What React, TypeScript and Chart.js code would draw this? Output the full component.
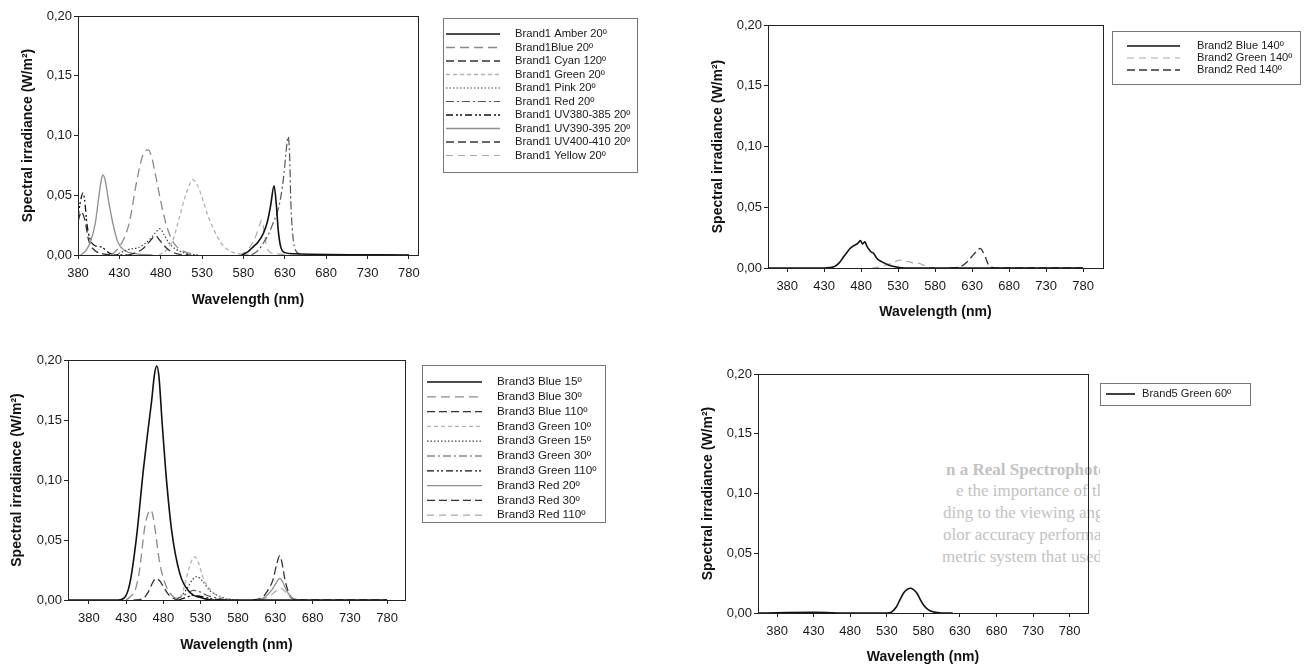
import React, { useEffect, useRef } from "react";
import { Chart, registerables } from "chart.js";

Chart.register(...registerables);

// ---------- shared axis ticks ----------
const X_TICKS = [380, 430, 480, 530, 580, 630, 680, 730, 780];
const Y_TICKS = [0, 0.05, 0.1, 0.15, 0.2];
const X_TITLE = "Wavelength (nm)";
const Y_TITLE = "Spectral irradiance (W/m²)";

// ---------- Panel 1 : Brand1 ----------
const B1_LABELS = [
  "Brand1 Amber 20º",
  "Brand1Blue 20º",
  "Brand1 Cyan 120º",
  "Brand1 Green 20º",
  "Brand1 Pink 20º",
  "Brand1 Red 20º",
  "Brand1 UV380-385 20º",
  "Brand1 UV390-395 20º",
  "Brand1 UV400-410 20º",
  "Brand1 Yellow 20º",
];
const b1AmberX = [578, 586, 592, 598, 604, 609, 613, 617, 620, 622, 625, 630, 640, 780];
const b1AmberY = [0, 0.003, 0.007, 0.011, 0.018, 0.028, 0.042, 0.058, 0.04, 0.021, 0.007, 0.002, 0.001, 0];
const b1BlueX = [420, 428, 435, 442, 450, 456, 461, 465, 469, 474, 480, 486, 492, 498, 508, 525];
const b1BlueY = [0, 0.005, 0.013, 0.027, 0.058, 0.078, 0.087, 0.088, 0.082, 0.066, 0.045, 0.027, 0.015, 0.008, 0.003, 0];
const b1CyanX = [440, 450, 458, 465, 470, 474, 478, 484, 490, 500, 515];
const b1CyanY = [0, 0.002, 0.005, 0.01, 0.014, 0.016, 0.013, 0.008, 0.004, 0.001, 0];
const b1GreenX = [478, 488, 495, 502, 510, 515, 519, 524, 530, 537, 545, 553, 562, 575, 590];
const b1GreenY = [0, 0.005, 0.013, 0.03, 0.05, 0.059, 0.063, 0.059, 0.048, 0.033, 0.02, 0.01, 0.004, 0.001, 0];
const b1PinkX = [425, 435, 443, 452, 460, 468, 474, 479, 484, 490, 498, 508, 525];
const b1PinkY = [0, 0.003, 0.005, 0.006, 0.009, 0.014, 0.019, 0.022, 0.017, 0.01, 0.005, 0.002, 0];
const b1RedX = [590, 598, 604, 610, 616, 621, 625, 629, 632, 634, 636, 637, 639, 642, 648, 660, 780];
const b1RedY = [0, 0.004, 0.01, 0.017, 0.027, 0.036, 0.048, 0.068, 0.09, 0.099, 0.08, 0.05, 0.022, 0.006, 0.001, 0, 0];
const b1Uv380X = [380, 383, 386, 388, 391, 395, 400, 408, 420, 440];
const b1Uv380Y = [0.031, 0.045, 0.052, 0.046, 0.025, 0.0125, 0.008, 0.0067, 0.001, 0];
const b1Uv390X = [383, 390, 396, 401, 405, 408, 410, 413, 417, 422, 428, 436, 450, 470];
const b1Uv390Y = [0, 0.004, 0.013, 0.027, 0.048, 0.062, 0.067, 0.062, 0.045, 0.027, 0.011, 0.004, 0.001, 0];
const b1Uv400X = [380, 384, 388, 393, 400, 410, 425];
const b1Uv400Y = [0.028, 0.036, 0.03, 0.012, 0.004, 0.001, 0];
const b1YellowX = [575, 583, 590, 595, 599, 602, 605, 608, 613, 620, 635];
const b1YellowY = [0, 0.003, 0.009, 0.016, 0.024, 0.029, 0.02, 0.007, 0.002, 0.001, 0];

// ---------- Panel 2 : Brand2 ----------
const B2_LABELS = ["Brand2 Blue 140º", "Brand2 Green 140º", "Brand2 Red 140º"];
const b2BlueX = [355, 430, 443, 450, 456, 461, 465, 469, 472, 475, 479, 482, 485, 488, 491, 493, 497, 501, 508, 517, 526, 540, 780];
const b2BlueY = [0, 0, 0.001, 0.004, 0.009, 0.013, 0.016, 0.018, 0.019, 0.02, 0.0225, 0.0198, 0.0216, 0.0175, 0.015, 0.0134, 0.012, 0.008, 0.005, 0.0025, 0.001, 0, 0];
const b2GreenX = [495, 506, 516, 524, 529, 533, 537, 544, 551, 556, 560, 569, 580];
const b2GreenY = [0, 0.001, 0.003, 0.004, 0.0062, 0.0066, 0.0052, 0.0053, 0.0039, 0.0042, 0.0035, 0.001, 0];
const b2RedX = [600, 614, 623, 632, 637, 641, 644, 648, 651, 655, 665, 780];
const b2RedY = [0, 0.001, 0.005, 0.011, 0.0145, 0.0162, 0.014, 0.009, 0.004, 0.001, 0, 0];

// ---------- Panel 3 : Brand3 ----------
const B3_LABELS = [
  "Brand3 Blue 15º",
  "Brand3 Blue 30º",
  "Brand3 Blue 110º",
  "Brand3 Green 10º",
  "Brand3 Green 15º",
  "Brand3 Green 30º",
  "Brand3 Green 110º",
  "Brand3 Red 20º",
  "Brand3 Red 30º",
  "Brand3 Red 110º",
];
const b3Blue15X = [352, 420, 428, 435, 444, 453, 459, 464, 468, 471, 474, 478, 483, 491, 502, 516, 530, 545, 780];
const b3Blue15Y = [0, 0, 0.002, 0.014, 0.053, 0.108, 0.14, 0.165, 0.188, 0.195, 0.186, 0.15, 0.108, 0.058, 0.022, 0.006, 0.002, 0, 0];
const b3Blue30X = [430, 436, 442, 448, 455, 460, 463, 466, 469, 475, 484, 493, 505];
const b3Blue30Y = [0, 0.003, 0.008, 0.025, 0.061, 0.073, 0.075, 0.07, 0.058, 0.031, 0.011, 0.003, 0];
const b3Blue110X = [440, 452, 460, 466, 470, 475, 480, 489, 500];
const b3Blue110Y = [0, 0.001, 0.007, 0.015, 0.018, 0.016, 0.011, 0.003, 0];
const b3Green10X = [495, 504, 509, 514, 518, 522, 527, 533, 540, 547, 558, 575];
const b3Green10Y = [0, 0.003, 0.014, 0.026, 0.033, 0.036, 0.031, 0.019, 0.011, 0.006, 0.002, 0];
const b3Green15X = [495, 505, 513, 519, 525, 532, 542, 552, 565, 580];
const b3Green15Y = [0, 0.004, 0.011, 0.017, 0.0195, 0.016, 0.008, 0.004, 0.001, 0];
const b3Green30X = [495, 505, 513, 520, 528, 538, 550, 565];
const b3Green30Y = [0, 0.003, 0.006, 0.008, 0.007, 0.004, 0.002, 0];
const b3Green110X = [500, 510, 520, 530, 545, 560];
const b3Green110Y = [0, 0.002, 0.004, 0.003, 0.001, 0];
const b3Red20X = [605, 615, 625, 631, 636, 640, 645, 652, 662];
const b3Red20Y = [0, 0.002, 0.008, 0.014, 0.018, 0.015, 0.008, 0.002, 0];
const b3Red30X = [600, 608, 614, 620, 627, 632, 636, 639, 643, 648, 654, 665, 780];
const b3Red30Y = [0, 0.001, 0.003, 0.008, 0.017, 0.03, 0.037, 0.031, 0.017, 0.006, 0.001, 0, 0];
const b3Red110X = [610, 622, 630, 637, 643, 650, 660];
const b3Red110Y = [0, 0.003, 0.007, 0.01, 0.007, 0.002, 0];

// ---------- Panel 4 : Brand5 ----------
const B4_LABELS = ["Brand5 Green 60º"];
const b5GreenX = [355, 430, 480, 530, 537, 543, 548, 553, 558, 562, 566, 571, 576, 581, 586, 593, 605, 620];
const b5GreenY = [0, 0.0005, 0, 0, 0.001, 0.005, 0.011, 0.0168, 0.0198, 0.0207, 0.0198, 0.0168, 0.011, 0.006, 0.003, 0.001, 0, 0];

// ---------- line styles ----------
type Style = { color: string; width: number; dash: number[] };
const SOLID_BLACK: Style = { color: "#111", width: 1.6, dash: [] };
const LONG_GRAY: Style = { color: "#8a8a8a", width: 1.3, dash: [9, 5] };
const DARK_DASH: Style = { color: "#333", width: 1.3, dash: [8, 4] };
const LIGHT_SHORT: Style = { color: "#b2b2b2", width: 1.3, dash: [4, 3] };
const DOTTED: Style = { color: "#444", width: 1.2, dash: [1.5, 2] };
const DASH_DOT: Style = { color: "#555", width: 1.2, dash: [8, 3, 2, 3] };
const DASH_DOT_DOT: Style = { color: "#111", width: 1.3, dash: [7, 3, 2, 2, 2, 3] };
const SOLID_GRAY: Style = { color: "#8f8f8f", width: 1.3, dash: [] };
const LIGHT_LONG: Style = { color: "#a8a8a8", width: 1.2, dash: [7, 5] };

type Series = { label: string; xs: number[]; ys: number[]; style: Style };

const P1_SERIES: Series[] = [
  { label: B1_LABELS[0], xs: b1AmberX, ys: b1AmberY, style: SOLID_BLACK },
  { label: B1_LABELS[1], xs: b1BlueX, ys: b1BlueY, style: LONG_GRAY },
  { label: B1_LABELS[2], xs: b1CyanX, ys: b1CyanY, style: DARK_DASH },
  { label: B1_LABELS[3], xs: b1GreenX, ys: b1GreenY, style: LIGHT_SHORT },
  { label: B1_LABELS[4], xs: b1PinkX, ys: b1PinkY, style: DOTTED },
  { label: B1_LABELS[5], xs: b1RedX, ys: b1RedY, style: DASH_DOT },
  { label: B1_LABELS[6], xs: b1Uv380X, ys: b1Uv380Y, style: DASH_DOT_DOT },
  { label: B1_LABELS[7], xs: b1Uv390X, ys: b1Uv390Y, style: SOLID_GRAY },
  { label: B1_LABELS[8], xs: b1Uv400X, ys: b1Uv400Y, style: DARK_DASH },
  { label: B1_LABELS[9], xs: b1YellowX, ys: b1YellowY, style: LIGHT_LONG },
];
const P2_SERIES: Series[] = [
  { label: B2_LABELS[0], xs: b2BlueX, ys: b2BlueY, style: SOLID_BLACK },
  { label: B2_LABELS[1], xs: b2GreenX, ys: b2GreenY, style: LIGHT_LONG },
  { label: B2_LABELS[2], xs: b2RedX, ys: b2RedY, style: DARK_DASH },
];
const P3_SERIES: Series[] = [
  { label: B3_LABELS[0], xs: b3Blue15X, ys: b3Blue15Y, style: SOLID_BLACK },
  { label: B3_LABELS[1], xs: b3Blue30X, ys: b3Blue30Y, style: LONG_GRAY },
  { label: B3_LABELS[2], xs: b3Blue110X, ys: b3Blue110Y, style: DARK_DASH },
  { label: B3_LABELS[3], xs: b3Green10X, ys: b3Green10Y, style: LIGHT_SHORT },
  { label: B3_LABELS[4], xs: b3Green15X, ys: b3Green15Y, style: DOTTED },
  { label: B3_LABELS[5], xs: b3Green30X, ys: b3Green30Y, style: DASH_DOT },
  { label: B3_LABELS[6], xs: b3Green110X, ys: b3Green110Y, style: DASH_DOT_DOT },
  { label: B3_LABELS[7], xs: b3Red20X, ys: b3Red20Y, style: SOLID_GRAY },
  { label: B3_LABELS[8], xs: b3Red30X, ys: b3Red30Y, style: DARK_DASH },
  { label: B3_LABELS[9], xs: b3Red110X, ys: b3Red110Y, style: LIGHT_LONG },
];
const P4_SERIES: Series[] = [
  { label: B4_LABELS[0], xs: b5GreenX, ys: b5GreenY, style: SOLID_BLACK },
];

type LegendBox = { x0: number; y0: number; x1: number; y1: number; lx0: number; lx1: number; tx: number; row0: number; step: number; font: number };
type PanelDef = {
  x: number; y: number; w: number; h: number;
  plot: { l: number; t: number; r: number; b: number };
  xMin: number; xMax: number;
  yTitlePad: number; xTitlePad: number;
  legend: LegendBox;
  series: Series[];
};

const PANELS: PanelDef[] = [
  {
    x: 0, y: 0, w: 650, h: 325,
    plot: { l: 78, t: 16, r: 418, b: 255 }, xMin: 380, xMax: 791,
    yTitlePad: 19.6, xTitlePad: 16.6,
    legend: { x0: 443, y0: 18, x1: 637, y1: 172, lx0: 446, lx1: 500, tx: 515, row0: 34, step: 13.5, font: 11.2 },
    series: P1_SERIES,
  },
  {
    x: 690, y: 0, w: 617, h: 330,
    plot: { l: 78, t: 25, r: 413, b: 268 }, xMin: 354, xMax: 807,
    yTitlePad: 19.6, xTitlePad: 9.6,
    legend: { x0: 422, y0: 31, x1: 610, y1: 84, lx0: 437, lx1: 490, tx: 507, row0: 46, step: 12, font: 11.1 },
    series: P2_SERIES,
  },
  {
    x: 0, y: 340, w: 650, h: 328,
    plot: { l: 68, t: 20, r: 405, b: 260 }, xMin: 352, xMax: 804,
    yTitlePad: 8.6, xTitlePad: 14.6,
    legend: { x0: 422, y0: 25, x1: 605, y1: 182, lx0: 427, lx1: 482, tx: 497, row0: 42, step: 14.8, font: 11.7 },
    series: P3_SERIES,
  },
  {
    x: 690, y: 340, w: 617, h: 328,
    plot: { l: 68, t: 34, r: 398, b: 273 }, xMin: 354, xMax: 805,
    yTitlePad: 9.6, xTitlePad: 2.6,
    legend: { x0: 410, y0: 43, x1: 560, y1: 65, lx0: 416, lx1: 445, tx: 452, row0: 54, step: 12, font: 11.1 },
    series: P4_SERIES,
  },
];

const FAMILY = '"Liberation Sans", Arial, Helvetica, sans-serif';

function Panel({ p }: { p: PanelDef }) {
  const ref = useRef<HTMLCanvasElement | null>(null);
  useEffect(() => {
    const canvas = ref.current;
    if (!canvas) return;
    const frameLegend = {
      id: "frameLegend",
      afterDraw(chart: any) {
        const { ctx, chartArea: a } = chart;
        ctx.save();
        ctx.setLineDash([]);
        ctx.strokeStyle = "#222";
        ctx.lineWidth = 1;
        ctx.strokeRect(Math.round(a.left) + 0.5, Math.round(a.top) + 0.5, Math.round(a.right - a.left), Math.round(a.bottom - a.top));
        const L = p.legend;
        ctx.strokeStyle = "#777";
        ctx.strokeRect(L.x0 + 0.5, L.y0 + 0.5, L.x1 - L.x0, L.y1 - L.y0);
        chart.data.datasets.forEach((ds: any, i: number) => {
          const y = L.row0 + i * L.step;
          ctx.beginPath();
          ctx.setLineDash(ds.borderDash || []);
          ctx.strokeStyle = ds.borderColor;
          ctx.lineWidth = ds.borderWidth;
          ctx.moveTo(L.lx0, y);
          ctx.lineTo(L.lx1, y);
          ctx.stroke();
          ctx.setLineDash([]);
          ctx.fillStyle = "#1a1a1a";
          ctx.font = `${L.font}px ${FAMILY}`;
          ctx.textBaseline = "middle";
          ctx.textAlign = "left";
          ctx.fillText(ds.label, L.tx, y);
        });
        ctx.restore();
      },
    };
    const chart = new Chart(canvas, {
      type: "line",
      data: {
        datasets: p.series.map((s) => ({
          label: s.label,
          data: s.xs.map((x, i) => ({ x, y: s.ys[i] })),
          borderColor: s.style.color,
          borderWidth: s.style.width,
          borderDash: s.style.dash,
          pointRadius: 0,
          fill: false,
          cubicInterpolationMode: "monotone" as const,
        })),
      },
      options: {
        animation: false,
        responsive: false,
        devicePixelRatio: 1,
        events: [],
        layout: { padding: { left: 0, top: p.plot.t, right: p.w - p.plot.r, bottom: 0 } },
        plugins: { legend: { display: false }, tooltip: { enabled: false } },
        scales: {
          x: {
            type: "linear",
            min: p.xMin,
            max: p.xMax,
            afterBuildTicks: (s: any) => {
              s.ticks = X_TICKS.map((v) => ({ value: v }));
            },
            afterFit: (s: any) => {
              s.height = p.h - p.plot.b;
            },
            grid: { drawOnChartArea: false, drawTicks: true, tickLength: 4, color: "#222" },
            border: { display: true, color: "#222", width: 1 },
            ticks: {
              color: "#1a1a1a",
              font: { size: 13, family: FAMILY },
              padding: 7,
              maxRotation: 0,
              autoSkip: false,
              callback: (v: any) => String(v),
            },
            title: {
              display: true,
              text: X_TITLE,
              color: "#111",
              font: { size: 14, weight: "bold", family: FAMILY },
              padding: { top: 0, bottom: p.xTitlePad },
            },
          },
          y: {
            type: "linear",
            min: 0,
            max: 0.2,
            afterBuildTicks: (s: any) => {
              s.ticks = Y_TICKS.map((v) => ({ value: v }));
            },
            afterFit: (s: any) => {
              s.width = p.plot.l;
            },
            grid: { drawOnChartArea: false, drawTicks: true, tickLength: 4, color: "#222" },
            border: { display: true, color: "#222", width: 1 },
            ticks: {
              color: "#1a1a1a",
              font: { size: 13, family: FAMILY },
              padding: 2,
              autoSkip: false,
              callback: (v: any) => Number(v).toFixed(2).replace(".", ","),
            },
            title: {
              display: true,
              text: Y_TITLE,
              color: "#111",
              font: { size: 14, weight: "bold", family: FAMILY },
              padding: { top: p.yTitlePad, bottom: 0 },
            },
          },
        },
      } as any,
      plugins: [frameLegend],
    });
    return () => chart.destroy();
  }, [p]);
  return (
    <canvas
      ref={ref}
      width={p.w}
      height={p.h}
      style={{ position: "absolute", left: p.x, top: p.y, width: p.w, height: p.h }}
    />
  );
}

// faint page text showing through the scan, behind the fourth panel
const BG_LINES = [
  { text: "n a Real Spectrophoto", top: 460, left: 946, bold: true },
  { text: "e the importance of th", top: 481, left: 956, bold: false },
  { text: "ding to the viewing angle", top: 503, left: 943, bold: false },
  { text: "olor accuracy performance o", top: 525, left: 943, bold: false },
  { text: "metric system that used a white", top: 547, left: 942, bold: false },
];

export default function App() {
  return (
    <div style={{ position: "absolute", left: 0, top: 0, width: 1307, height: 668, background: "#fff", overflow: "hidden" }}>
      <div style={{ position: "absolute", left: 930, top: 450, width: 170, height: 125, overflow: "hidden" }}>
        {BG_LINES.map((l, i) => (
          <div
            key={i}
            style={{
              position: "absolute",
              left: l.left - 930,
              top: l.top - 450,
              whiteSpace: "nowrap",
              fontFamily: '"Liberation Serif", "DejaVu Serif", serif',
              fontSize: 17,
              lineHeight: "20px",
              fontWeight: l.bold ? 700 : 400,
              color: "#c2c2c2",
            }}
          >
            {l.text}
          </div>
        ))}
      </div>
      {PANELS.map((p, i) => (
        <Panel key={i} p={p} />
      ))}
    </div>
  );
}
